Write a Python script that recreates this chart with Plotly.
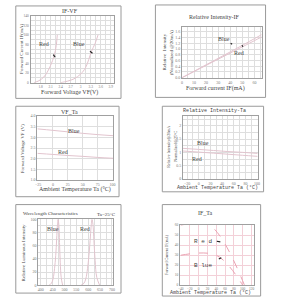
import plotly.graph_objects as go

# ---------------- data ----------------
# IF-VF
vf_red_v = [1.6, 1.75, 1.9, 2.0, 2.1, 2.21, 2.27, 2.3]
vf_red_i = [0, 4, 12, 22, 36, 57, 78, 100]
vf_blue_v = [2.4, 2.6, 2.8, 3.0, 3.15, 3.32, 3.43, 3.52]
vf_blue_i = [0, 3, 8, 18, 32, 65, 82, 100]
vf_xticks = [1.8, 2.1, 2.4, 2.7, 3.0, 3.3, 3.6, 3.9]
vf_yticks = [0, 20, 40, 60, 80, 100, 120, 140]

# Relative Intensity-IF
ri_if = [0, 20, 40, 60, 66]
ri_blue = [0, 0.45, 0.9, 1.36, 1.5]
ri_red = [0, 0.43, 0.86, 1.29, 1.42]
ri_xticks = [0, 10, 20, 30, 40, 50, 60]
ri_yticks = [0, 0.2, 0.4, 0.6, 0.8, 1.0, 1.2, 1.4, 1.6]

# VF_Ta
vt_ta = [-26, 0, 25, 50, 75, 101]
vt_blue = [3.40, 3.33, 3.26, 3.19, 3.13, 3.08]
vt_red = [2.25, 2.20, 2.15, 2.11, 2.06, 2.02]
vt_xticks = [-25, 0, 25, 50, 75, 100]
vt_yticks = [1.0, 1.5, 2.0, 2.5, 3.0, 3.5, 4.0]

# Relative Intensity-Ta
rt_ta = [-27, 0, 25, 50, 75, 101]
rt_blue = [1.15, 1.11, 1.07, 1.03, 1.0, 0.96]
rt_red = [1.05, 1.01, 0.97, 0.93, 0.89, 0.85]
rt_xticks = [-20, 0, 20, 40, 60, 80, 100]
rt_yticks = [0, 0.5, 1.0, 1.5, 2.0]

# Wavelength Characteristics
wl_blue_x = [435, 445, 452, 458, 463, 467, 470, 473, 476, 479, 482, 486, 492]
wl_blue_y = [0, 3, 10, 25, 45, 70, 90, 100, 92, 65, 35, 12, 0]
wl_red_x = [570, 582, 590, 597, 603, 608, 612, 616, 620, 624, 629, 636, 648]
wl_red_y = [0, 3, 10, 25, 45, 68, 88, 100, 92, 68, 38, 12, 0]
wl_xticks = [400, 450, 500, 550, 600, 650, 700]
wl_yticks = [0, 20, 40, 60, 80, 100]

# IF_Ta
it_red_x = [-40, 25, 104]
it_red_y = [60, 60, 0]
it_blue_x = [-40, 40, 100]
it_blue_y = [30, 30, 0]
it_xticks = [-40, -20, 0, 20, 40, 60, 80, 100, 120]
it_yticks = [0, 10, 20, 30, 40, 50, 60]

# ---------------- helpers ----------------
W = H = 300
def px(x):
    return x / W
def py(y):
    return 1 - y / H

SERIF = "Liberation Serif"
MONO = "Liberation Mono"
TXT = "#444444"
GRID = "#dedede"
CURVE = "#e2c4ce"

fig = go.Figure()

def add_axes(n, xd, yd, xr, yr, xt, yt, xminor, yminor, grid=GRID, tickfmt=None, tsize=4):
    xa = "xaxis" if n == 1 else f"xaxis{n}"
    ya = "yaxis" if n == 1 else f"yaxis{n}"
    anchor_x = "x" if n == 1 else f"x{n}"
    anchor_y = "y" if n == 1 else f"y{n}"
    fig.layout[xa] = dict(
        domain=[px(xd[0]), px(xd[1])], range=xr, anchor=anchor_y,
        tickmode="array", tickvals=xt, showgrid=True, gridcolor=grid, gridwidth=1,
        minor=dict(dtick=xminor, showgrid=True, gridcolor=grid, gridwidth=1),
        showline=True, linecolor="#a0a0a0", linewidth=1, mirror=True,
        zeroline=False, ticks="", tickfont=dict(size=tsize, color="#777", family=SERIF),
        ticklen=0, fixedrange=True)
    fig.layout[ya] = dict(
        domain=[py(yd[1]), py(yd[0])], range=yr, anchor=anchor_x,
        tickmode="array", tickvals=yt, showgrid=True, gridcolor=grid, gridwidth=1,
        minor=dict(dtick=yminor, showgrid=True, gridcolor=grid, gridwidth=1),
        showline=True, linecolor="#a0a0a0", linewidth=1, mirror=True,
        zeroline=False, ticks="", tickfont=dict(size=tsize, color="#777", family=SERIF),
        ticklen=0, fixedrange=True, tickformat=tickfmt)

def line(n, x, y, color=CURVE, dash="solid", width=1):
    xa = "x" if n == 1 else f"x{n}"
    ya = "y" if n == 1 else f"y{n}"
    fig.add_trace(go.Scatter(x=x, y=y, mode="lines", xaxis=xa, yaxis=ya,
                             line=dict(color=color, width=width, dash=dash, shape="spline"),
                             hoverinfo="skip", showlegend=False))

def text(t, x, y, size=6, angle=0, family=SERIF, color=TXT):
    fig.add_annotation(text=t, x=px(x), y=py(y), xref="paper", yref="paper",
                       xanchor="center", yanchor="middle",
                       showarrow=False, textangle=angle,
                       font=dict(size=size, family=family, color=color))

def arrow(x, y, ax, ay):
    fig.add_annotation(text="", x=px(x), y=py(y), xref="paper", yref="paper",
                       ax=ax - x, ay=ay - y, axref="pixel", ayref="pixel",
                       showarrow=True, arrowhead=0, arrowwidth=1.2, arrowcolor="#222",
                       standoff=0, startstandoff=0)

# ---------------- panels ----------------
# 1 IF-VF
add_axes(1, (28, 113), (13, 81), [1.5, 4.0], [0, 140], vf_xticks, vf_yticks, 0.15, 10, tsize=3.5)
line(1, vf_red_v, vf_red_i)
line(1, vf_blue_v, vf_blue_i)
text("IF-VF", 68, 8)
text("Forward Voltage VF(V)", 68, 91.5, size=6)
text("Forward Current IF(mA)", 19, 47, size=5, angle=-90)
text("Red", 42, 42, size=6)
text("Blue", 77, 42, size=6)
arrow(53, 55, 50, 51)
arrow(91, 51, 87, 48)

# 2 Relative Intensity-IF
add_axes(2, (182, 263), (24, 76), [0, 66], [0, 1.78], ri_xticks, ri_yticks, 5, 0.2, tickfmt=".1f")
line(2, ri_if, ri_blue)
line(2, ri_if, ri_red)
text("Relative Intensity-IF", 215, 14, size=6)
text("Forward current IF(mA)", 216, 87, size=6)
text("Relative  Intensity", 164, 50, size=5, angle=-90)
text("(Normalized @20mA)", 171, 50, size=5, angle=-90)
text("Blue", 225, 37, size=6)
text("Red", 240, 51, size=6)
arrow(233, 42, 230, 40)
arrow(243, 43, 245, 46)

# 3 VF_Ta
add_axes(3, (35, 112), (115, 180), [-26, 101], [1.0, 4.0], vt_xticks, vt_yticks, 25, 0.5, tickfmt=".1f")
line(3, vt_ta, vt_blue)
line(3, vt_ta, vt_red)
text("VF_Ta", 68, 111, size=6)
text("Ambient Temperature Ta (°C)", 73, 190, size=6)
text("Forward Voltage VF (V)", 20, 148, size=5, angle=-90)
text("Blue", 72, 130, size=6)
text("Red", 61, 152, size=6)

# 4 Relative Intensity-Ta
add_axes(4, (183, 259), (115, 179), [-27, 101], [0, 2.36], rt_xticks, rt_yticks, 10, 0.25)
line(4, rt_ta, rt_blue)
line(4, rt_ta, rt_red)
text("Relative Intensity-Ta", 215, 110, size=5, family=MONO)
text("Ambient Temperature Ta (°C)", 218, 188, size=5, family=MONO)
text("Relative Intensity@20mA", 168, 146, size=4, angle=-90)
text("Normalized@25°C", 175, 146, size=4, angle=-90)
text("Blue", 203, 142, size=6)
text("Red", 197, 159, size=6)

# 5 Wavelength
add_axes(5, (36, 112), (220, 287), [390, 705], [0, 100], wl_xticks, wl_yticks, 25, 10)
line(5, wl_blue_x, wl_blue_y)
line(5, wl_red_x, wl_red_y)
text("Wavelength Characteristics", 48, 214, size=5)
text("Ta=25°C", 105, 215, size=5)
text("Relative Luminous Intensity", 21, 254, size=5, angle=-90)
text("Blue", 51, 230, size=6)
text("Red", 83, 230, size=6)

# 6 IF_Ta
PINK = "#f3d0d8"
add_axes(6, (180, 255), (226, 287), [-42, 125], [0, 60], it_xticks, it_yticks, 20, 10,
         grid=PINK, tsize=3.5)
line(6, it_red_x, it_red_y, color="#eaa2b2", dash="dash")
line(6, it_blue_x, it_blue_y, color="#eaa2b2", dash="dash")
text("IF_Ta", 206, 214, size=6)
text("Ambient Temperature Ta (°C)", 211, 294.5, size=5, family=MONO)
text("Forward Current IF(mA)", 167, 256, size=4, angle=-90)
text("R e d", 203, 243, size=6, family=MONO)
text("B lue", 203, 267, size=6, family=MONO)
arrow(221, 243, 216, 242)
arrow(222, 259, 218, 261)

# frames
frames = [(13, 3, 120, 97), (155, 2, 267, 96), (13, 105, 118, 197),
          (162, 105, 265, 192), (13, 205, 120, 295), (162, 205, 262, 298)]
for (x0, y0, x1, y1) in frames:
    fig.add_shape(type="rect", xref="paper", yref="paper",
                  x0=px(x0), x1=px(x1), y0=py(y1), y1=py(y0),
                  line=dict(color="#9a9a9a", width=1))

fig.update_layout(width=W, height=H, margin=dict(l=0, r=0, t=0, b=0),
                  paper_bgcolor="white", plot_bgcolor="white", showlegend=False)
fig.write_html("out.html", config={"displayModeBar": False})
